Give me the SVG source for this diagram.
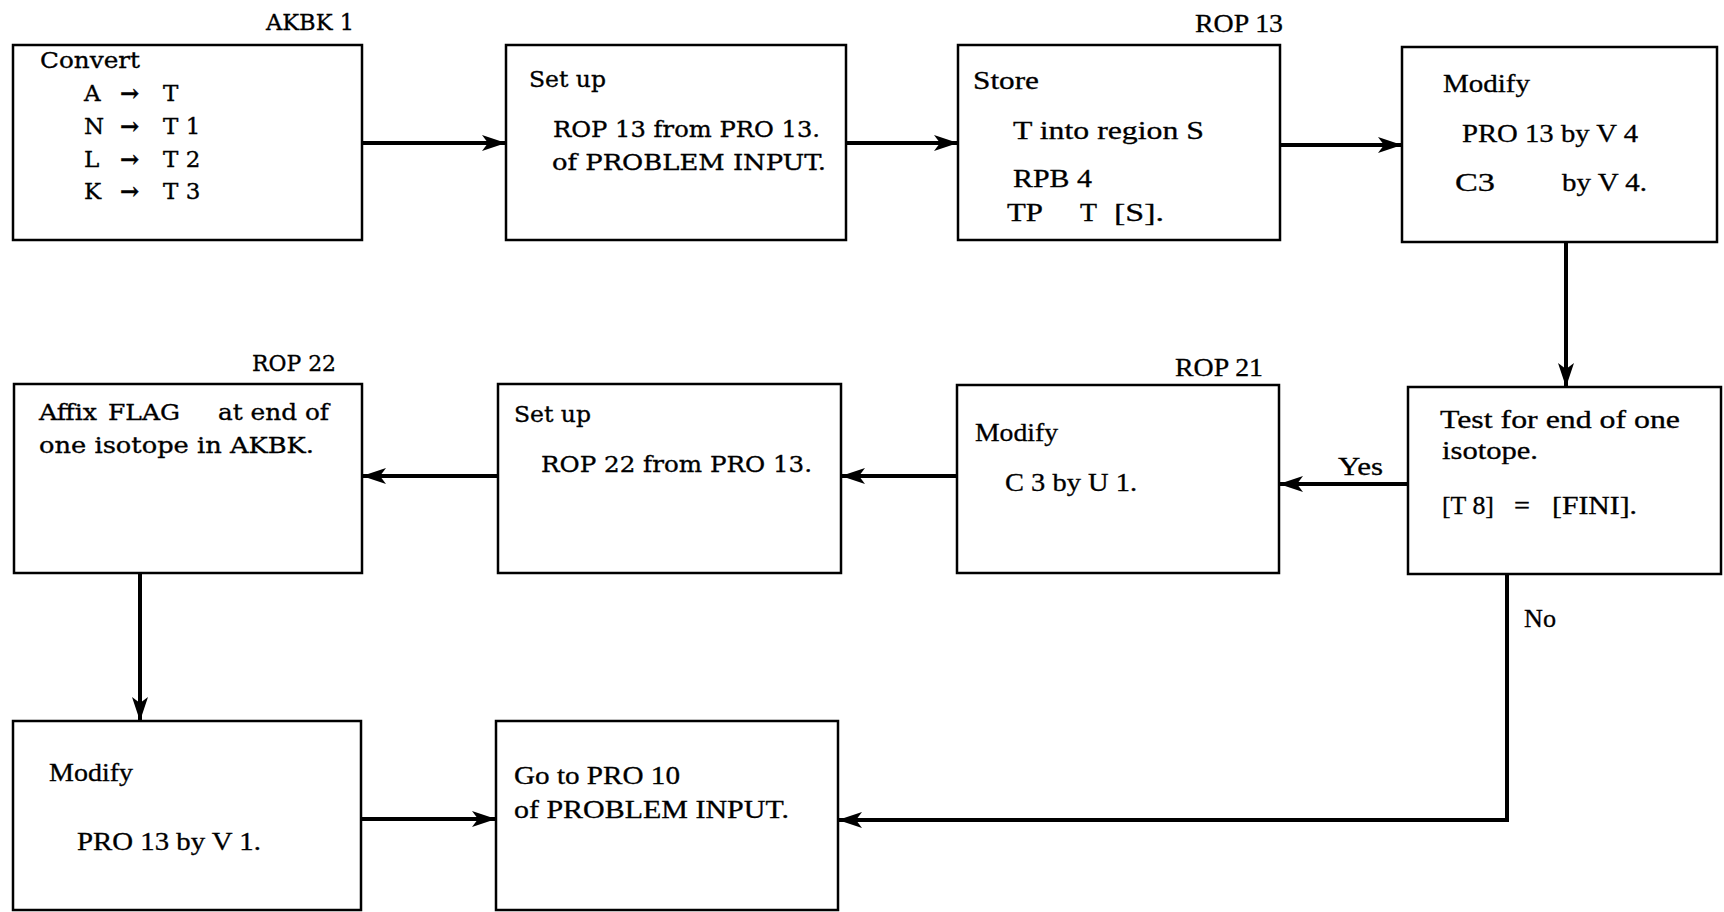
<svg xmlns="http://www.w3.org/2000/svg" width="1724" height="912" viewBox="0 0 1724 912">
<style>
.box{fill:#fff;stroke:#000;stroke-width:2.5}
.w{font-family:"DejaVu Serif","Liberation Serif",serif;font-size:23px;fill:#000;stroke:#000;stroke-width:0.35}
.n{font-family:"Liberation Serif","DejaVu Serif",serif;font-size:25px;fill:#000;stroke:#000;stroke-width:0.3}
.ar{font-weight:bold}
.con{fill:none;stroke:#000;stroke-width:4}
</style>
<defs>
<marker id="ah" markerUnits="userSpaceOnUse" markerWidth="26" markerHeight="18" refX="24" refY="9" orient="auto">
<path d="M0,1 L24,9 L0,17 L6,9 Z" fill="#000"/>
</marker>
</defs>
<rect width="1724" height="912" fill="#fff"/>

<g id="connectors">
<line class="con" x1="362" y1="143" x2="506" y2="143" marker-end="url(#ah)"/>
<line class="con" x1="846" y1="143" x2="958" y2="143" marker-end="url(#ah)"/>
<line class="con" x1="1280" y1="145" x2="1402" y2="145" marker-end="url(#ah)"/>
<line class="con" x1="1566" y1="242" x2="1566" y2="387" marker-end="url(#ah)"/>
<line class="con" x1="1408" y1="484" x2="1279" y2="484" marker-end="url(#ah)"/>
<line class="con" x1="957" y1="476" x2="841" y2="476" marker-end="url(#ah)"/>
<line class="con" x1="498" y1="476" x2="362" y2="476" marker-end="url(#ah)"/>
<line class="con" x1="140" y1="573" x2="140" y2="721" marker-end="url(#ah)"/>
<line class="con" x1="361" y1="819" x2="496" y2="819" marker-end="url(#ah)"/>
<polyline class="con" points="1507,574 1507,820 838,820" marker-end="url(#ah)"/>
<text class="n" x="1338" y="475" textLength="45" lengthAdjust="spacingAndGlyphs">Yes</text>
<text class="n" x="1524" y="627" textLength="32" lengthAdjust="spacingAndGlyphs">No</text>
</g>

<g id="akbk1">
<text class="w" x="266" y="30" textLength="88" lengthAdjust="spacingAndGlyphs">AKBK 1</text>
<rect class="box" x="13" y="45" width="349" height="195"/>
<text class="w" x="40" y="68" textLength="100" lengthAdjust="spacingAndGlyphs">Convert</text>
<text class="w" y="101"><tspan x="84">A</tspan><tspan class="ar" x="120">→</tspan><tspan x="163">T</tspan></text>
<text class="w" y="134"><tspan x="84">N</tspan><tspan class="ar" x="120">→</tspan><tspan x="163">T 1</tspan></text>
<text class="w" y="167"><tspan x="84">L</tspan><tspan class="ar" x="120">→</tspan><tspan x="163">T 2</tspan></text>
<text class="w" y="199"><tspan x="84">K</tspan><tspan class="ar" x="120">→</tspan><tspan x="163">T 3</tspan></text>
</g>

<g id="setup-rop13">
<rect class="box" x="506" y="45" width="340" height="195"/>
<text class="w" x="529" y="87" textLength="77" lengthAdjust="spacingAndGlyphs">Set up</text>
<text class="w" x="553" y="137" textLength="267" lengthAdjust="spacingAndGlyphs">ROP 13 from PRO 13.</text>
<text class="w" x="552" y="170" textLength="274" lengthAdjust="spacingAndGlyphs">of PROBLEM INPUT.</text>
</g>

<g id="rop13">
<text class="n" x="1195" y="32" textLength="88" lengthAdjust="spacingAndGlyphs">ROP 13</text>
<rect class="box" x="958" y="45" width="322" height="195"/>
<text class="n" x="973" y="89" textLength="66" lengthAdjust="spacingAndGlyphs">Store</text>
<text class="n" x="1013" y="139" textLength="191" lengthAdjust="spacingAndGlyphs">T into region S</text>
<text class="n" x="1013" y="187" textLength="79" lengthAdjust="spacingAndGlyphs">RPB 4</text>
<text class="n" x="1007" y="221" textLength="36" lengthAdjust="spacingAndGlyphs">TP</text>
<text class="n" x="1080" y="221" textLength="17" lengthAdjust="spacingAndGlyphs">T</text>
<text class="n" x="1114" y="221" textLength="50" lengthAdjust="spacingAndGlyphs">[S].</text>
</g>

<g id="modify-v4">
<rect class="box" x="1402" y="47" width="315" height="195"/>
<text class="n" x="1443" y="92" textLength="87" lengthAdjust="spacingAndGlyphs">Modify</text>
<text class="n" x="1462" y="142" textLength="176" lengthAdjust="spacingAndGlyphs">PRO 13 by V 4</text>
<text class="n" x="1455" y="191" textLength="40" lengthAdjust="spacingAndGlyphs">C3</text>
<text class="n" x="1562" y="191" textLength="85" lengthAdjust="spacingAndGlyphs">by V 4.</text>
</g>

<g id="test">
<rect class="box" x="1408" y="387" width="313" height="187"/>
<text class="n" x="1440" y="428" textLength="240" lengthAdjust="spacingAndGlyphs">Test for end of one</text>
<text class="n" x="1442" y="459" textLength="96" lengthAdjust="spacingAndGlyphs">isotope.</text>
<text class="n" x="1442" y="514" textLength="52" lengthAdjust="spacingAndGlyphs">[T 8]</text>
<text class="n" x="1514" y="514" textLength="16" lengthAdjust="spacingAndGlyphs">=</text>
<text class="n" x="1552" y="514" textLength="85" lengthAdjust="spacingAndGlyphs">[FINI].</text>
</g>

<g id="rop21">
<text class="n" x="1175" y="376" textLength="88" lengthAdjust="spacingAndGlyphs">ROP 21</text>
<rect class="box" x="957" y="385" width="322" height="188"/>
<text class="n" x="975" y="441" textLength="83" lengthAdjust="spacingAndGlyphs">Modify</text>
<text class="n" x="1005" y="491" textLength="132" lengthAdjust="spacingAndGlyphs">C 3 by U 1.</text>
</g>

<g id="setup-rop22">
<rect class="box" x="498" y="384" width="343" height="189"/>
<text class="w" x="514" y="422" textLength="77" lengthAdjust="spacingAndGlyphs">Set up</text>
<text class="w" x="541" y="472" textLength="271" lengthAdjust="spacingAndGlyphs">ROP 22 from PRO 13.</text>
</g>

<g id="rop22">
<text class="w" x="252" y="371" textLength="84" lengthAdjust="spacingAndGlyphs">ROP 22</text>
<rect class="box" x="14" y="384" width="348" height="189"/>
<text class="w" x="39" y="420" textLength="58" lengthAdjust="spacingAndGlyphs">Affix</text>
<text class="w" x="108" y="420" textLength="72" lengthAdjust="spacingAndGlyphs">FLAG</text>
<text class="w" x="218" y="420" textLength="111" lengthAdjust="spacingAndGlyphs">at end of</text>
<text class="w" x="39" y="453" textLength="275" lengthAdjust="spacingAndGlyphs">one isotope in AKBK.</text>
</g>

<g id="modify-v1">
<rect class="box" x="13" y="721" width="348" height="189"/>
<text class="n" x="49" y="781" textLength="84" lengthAdjust="spacingAndGlyphs">Modify</text>
<text class="n" x="77" y="850" textLength="184" lengthAdjust="spacingAndGlyphs">PRO 13 by V 1.</text>
</g>

<g id="goto-pro10">
<rect class="box" x="496" y="721" width="342" height="189"/>
<text class="n" x="514" y="784" textLength="166" lengthAdjust="spacingAndGlyphs">Go to PRO 10</text>
<text class="n" x="514" y="818" textLength="275" lengthAdjust="spacingAndGlyphs">of PROBLEM INPUT.</text>
</g>
</svg>
